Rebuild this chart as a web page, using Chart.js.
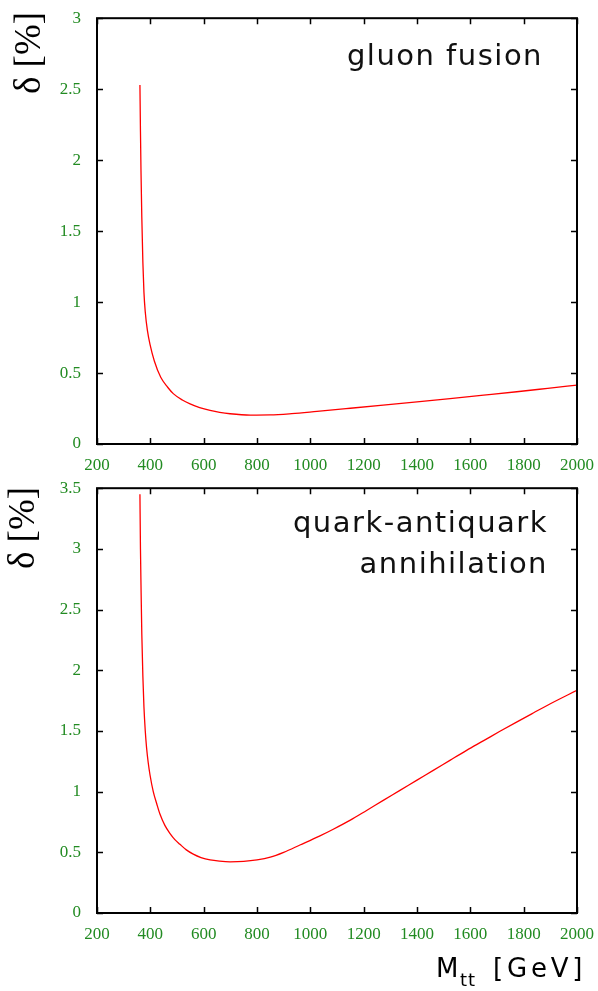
<!DOCTYPE html>
<html>
<head>
<meta charset="utf-8">
<script src="https://cdn.jsdelivr.net/npm/chart.js@4"></script>
<style>
    html, body { margin: 0; padding: 0; background: #fff; }
    #wrap { position: relative; width: 598px; height: 991px; }
    canvas { position: absolute; left: 0; }
    #topCanvas { top: 0; }
    #bottomCanvas { top: 470px; }
</style>
</head>
<body>
<div id="wrap">
    <canvas id="topCanvas" width="598" height="470"></canvas>
    <canvas id="bottomCanvas" width="598" height="521"></canvas>
</div>
<script>
// Gluon fusion curve
const gluonMass  = [361, 363, 365, 368, 372, 376, 381, 389, 399, 415, 439, 465, 486, 520, 549, 585, 624, 660, 699, 775, 849, 930, 1025, 1150, 1273, 1400, 1524, 1650, 1774, 1890, 2000];
const gluonDelta = [2.53, 2.2, 1.92, 1.6, 1.28, 1.07, 0.93, 0.80, 0.70, 0.585, 0.47, 0.40, 0.355, 0.31, 0.283, 0.257, 0.237, 0.223, 0.213, 0.204, 0.205, 0.214, 0.23, 0.252, 0.274, 0.297, 0.32, 0.344, 0.368, 0.392, 0.415];

// Quark-antiquark annihilation curve
const quarkMass  = [361, 363, 365, 368, 372, 376, 381, 386, 392, 399, 411, 424, 436, 455, 474, 492, 511, 535, 561, 590, 624, 660, 699, 750, 800, 850, 900, 961, 1036, 1086, 1150, 1211, 1275, 1336, 1400, 1461, 1525, 1586, 1650, 1711, 1775, 1836, 1900, 2000];
const quarkDelta = [3.45, 3.0, 2.7, 2.3, 1.95, 1.70, 1.50, 1.36, 1.24, 1.135, 1.0, 0.9, 0.815, 0.72, 0.655, 0.605, 0.566, 0.52, 0.485, 0.457, 0.437, 0.427, 0.422, 0.425, 0.437, 0.46, 0.50, 0.56, 0.635, 0.69, 0.765, 0.845, 0.93, 1.01, 1.095, 1.175, 1.26, 1.34, 1.42, 1.497, 1.575, 1.648, 1.724, 1.835];

// Axis ranges and titles
const xRange = [200, 2000, 200];
const topYRange = [0, 3, 0.5];
const bottomYRange = [0, 3.5, 0.5];
const topTitle = ['gluon fusion'];
const bottomTitle = ['quark-antiquark', 'annihilation'];

const tickGreen = '#228b22';
const tickFont = { family: '"Liberation Serif", serif', size: 17 };

function toPoints(xs, ys) {
    return xs.map((x, i) => ({ x: x, y: ys[i] }));
}

// Frame with inward ticks on all four sides, plus the text labels
const framePlugin = {
    id: 'frame',
    afterDraw(chart, args, opts) {
        const ctx = chart.ctx;
        const a = chart.chartArea;
        const xs = chart.scales.x;
        const ys = chart.scales.y;
        const tl = 6;
        ctx.save();
        ctx.strokeStyle = '#000';
        ctx.lineWidth = 2;
        ctx.strokeRect(a.left, a.top, a.right - a.left, a.bottom - a.top);
        ctx.lineWidth = 1.5;
        ctx.beginPath();
        xs.ticks.forEach(t => {
            const px = Math.round(xs.getPixelForValue(t.value)) + 0.5;
            ctx.moveTo(px, a.bottom); ctx.lineTo(px, a.bottom - tl);
            ctx.moveTo(px, a.top); ctx.lineTo(px, a.top + tl);
        });
        ys.ticks.forEach(t => {
            const py = Math.round(ys.getPixelForValue(t.value)) + 0.5;
            ctx.moveTo(a.left, py); ctx.lineTo(a.left + tl, py);
            ctx.moveTo(a.right, py); ctx.lineTo(a.right - tl, py);
        });
        ctx.stroke();

        // panel title, right aligned
        ctx.fillStyle = '#111';
        ctx.font = '29px "DejaVu Sans"';
        ctx.letterSpacing = '1.5px';
        ctx.textAlign = 'right';
        ctx.textBaseline = 'alphabetic';
        opts.title.forEach((line, i) => {
            ctx.fillText(line, opts.titleX, opts.titleY + i * 41);
        });

        // rotated y label
        ctx.letterSpacing = '0px';
        ctx.translate(opts.yLabelX, opts.yLabelY);
        ctx.rotate(-Math.PI / 2);
        ctx.textAlign = 'center';
        ctx.textBaseline = 'middle';
        ctx.fillStyle = '#000';
        ctx.font = '37px "Liberation Serif"';
        ctx.fillText('δ [%]', 0, 0);
        ctx.restore();

        if (opts.xLabel) {
            ctx.save();
            ctx.fillStyle = '#000';
            ctx.textBaseline = 'alphabetic';
            ctx.textAlign = 'left';
            ctx.font = '26px "DejaVu Sans"';
            ctx.fillText('M', 436, 507);
            ctx.font = '18px "DejaVu Sans"';
            ctx.letterSpacing = '1px';
            ctx.fillText('tt', 460, 516);
            ctx.font = '26px "DejaVu Sans"';
            ctx.letterSpacing = '3.8px';
            ctx.fillText('[GeV]', 493, 507);
            ctx.restore();
        }
    }
};

function makeChart(canvasId, xsData, ysData, yRange, opts) {
    const ctx = document.getElementById(canvasId).getContext('2d');
    return new Chart(ctx, {
        type: 'line',
        data: {
            datasets: [{
                data: toPoints(xsData, ysData),
                borderColor: '#ff0000',
                borderWidth: 1.3,
                pointRadius: 0,
                fill: false,
                cubicInterpolationMode: 'monotone'
            }]
        },
        options: {
            responsive: false,
            animation: false,
            layout: {
                padding: { left: 0, right: 21, top: opts.padTop, bottom: 0 }
            },
            scales: {
                x: {
                    type: 'linear',
                    min: xRange[0],
                    max: xRange[1],
                    grid: { display: false },
                    border: { display: false },
                    ticks: {
                        stepSize: xRange[2],
                        color: tickGreen,
                        font: tickFont,
                        padding: 3,
                        maxRotation: 0,
                        callback: v => String(v)
                    },
                    afterFit: scale => { scale.height = opts.xHeight; }
                },
                y: {
                    min: yRange[0],
                    max: yRange[1],
                    grid: { display: false },
                    border: { display: false },
                    ticks: {
                        stepSize: yRange[2],
                        color: tickGreen,
                        font: tickFont,
                        padding: 8,
                        callback: v => String(v)
                    },
                    afterFit: scale => { scale.width = 97; }
                }
            },
            plugins: {
                legend: { display: false },
                tooltip: { enabled: false },
                frame: opts.frame
            }
        },
        plugins: [framePlugin]
    });
}

makeChart('topCanvas', gluonMass, gluonDelta, topYRange, {
    padTop: 13,
    xHeight: 26,
    frame: { title: topTitle, titleX: 543, titleY: 65, yLabelX: 30, yLabelY: 53, xLabel: false }
});

makeChart('bottomCanvas', quarkMass, quarkDelta, bottomYRange, {
    padTop: 12,
    xHeight: 78,
    frame: { title: bottomTitle, titleX: 548, titleY: 62, yLabelX: 24, yLabelY: 58, xLabel: true }
});
</script>
</body>
</html>
